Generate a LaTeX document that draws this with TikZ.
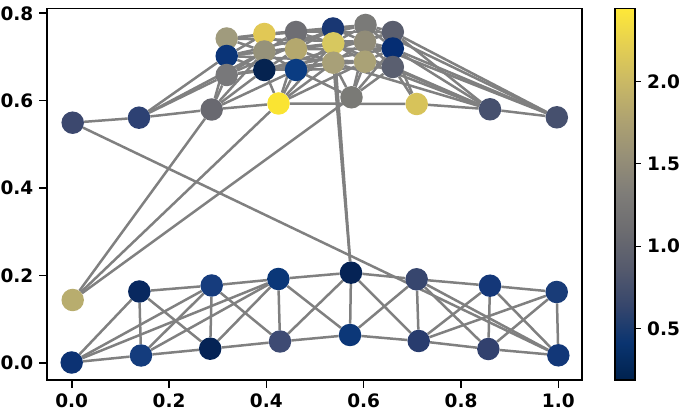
\documentclass[tikz,border=0pt]{standalone}
\usepackage{fontspec}
\setmainfont{DejaVu Sans}
\usetikzlibrary{backgrounds}
\definecolor{edgegray}{RGB}{128,128,128}
\definecolor{cv0}{RGB}{0,34,78}
\definecolor{cv1}{RGB}{10,52,112}
\definecolor{cv2}{RGB}{54,70,108}
\definecolor{cv3}{RGB}{85,90,109}
\definecolor{cv4}{RGB}{108,108,112}
\definecolor{cv5}{RGB}{126,124,120}
\definecolor{cv6}{RGB}{150,143,119}
\definecolor{cv7}{RGB}{174,162,113}
\definecolor{cv8}{RGB}{201,184,101}
\definecolor{cv9}{RGB}{228,207,82}
\definecolor{cv10}{RGB}{254,232,56}
\tikzset{
  vtx/.style={circle, minimum size=22.5pt, inner sep=0pt, draw=none},
  edge/.style={draw=edgegray, line width=2.5pt},
  frame/.style={draw=black, line width=1.8pt},
  tickmark/.style={draw=black, line width=1.6pt},
  ticklabel/.style={inner sep=0pt, font=\fontsize{18.5}{21}\selectfont\bfseries}
}
\begin{document}
\begin{tikzpicture}[x=1pt,y=-1pt]
\useasboundingbox (0,0) rectangle (685,411);
% ---- nodes: upper row
\node[vtx,fill={rgb,255:red,60;green,72;blue,110}] (P0) at (72.7,122.7) {};
\node[vtx,fill={rgb,255:red,45;green,65;blue,115}] (P1) at (139,117.7) {};
\node[vtx,fill={rgb,255:red,105;green,105;blue,112}] (P2) at (211.7,109.5) {};
\node[vtx,fill={rgb,255:red,250;green,228;blue,50}] (P3) at (278.5,103.5) {};
\node[vtx,fill={rgb,255:red,122;green,122;blue,118}] (P4) at (351.5,97.3) {};
\node[vtx,fill={rgb,255:red,215;green,195;blue,90}] (P5) at (416.7,104) {};
\node[vtx,fill={rgb,255:red,70;green,80;blue,110}] (P6) at (490,109.3) {};
\node[vtx,fill={rgb,255:red,70;green,80;blue,110}] (P7) at (556.8,117.3) {};
% ---- top cluster
\node[vtx,fill={rgb,255:red,160;green,155;blue,125}] (T11) at (226.7,38.5) {};
\node[vtx,fill={rgb,255:red,225;green,200;blue,85}] (T12) at (264.3,34) {};
\node[vtx,fill={rgb,255:red,110;green,110;blue,115}] (T13) at (296,32) {};
\node[vtx,fill={rgb,255:red,25;green,55;blue,115}] (T14) at (333,28.5) {};
\node[vtx,fill={rgb,255:red,122;green,122;blue,120}] (T15) at (365.5,25) {};
\node[vtx,fill={rgb,255:red,90;green,94;blue,110}] (T16) at (392.8,32) {};
\node[vtx,fill={rgb,255:red,10;green,52;blue,120}] (T21) at (226.7,56) {};
\node[vtx,fill={rgb,255:red,150;green,146;blue,122}] (T22) at (264.3,51.5) {};
\node[vtx,fill={rgb,255:red,180;green,168;blue,110}] (T23) at (296,49.3) {};
\node[vtx,fill={rgb,255:red,215;green,200;blue,95}] (T24) at (333.3,43.3) {};
\node[vtx,fill={rgb,255:red,145;green,140;blue,120}] (T25) at (365,41.7) {};
\node[vtx,fill={rgb,255:red,5;green,45;blue,115}] (T26) at (392.8,48.5) {};
\node[vtx,fill={rgb,255:red,120;green,120;blue,122}] (T31) at (226.7,75) {};
\node[vtx,fill={rgb,255:red,5;green,35;blue,80}] (T32) at (264.3,70) {};
\node[vtx,fill={rgb,255:red,10;green,60;blue,130}] (T33) at (296,70) {};
\node[vtx,fill={rgb,255:red,168;green,160;blue,120}] (T34) at (333.3,62.7) {};
\node[vtx,fill={rgb,255:red,170;green,162;blue,118}] (T35) at (365,61.7) {};
\node[vtx,fill={rgb,255:red,90;green,95;blue,112}] (T36) at (392.8,67) {};
% ---- bottom ladder
\node[vtx,fill={rgb,255:red,184;green,173;blue,110}] (y0) at (72.7,300) {};
\node[vtx,fill={rgb,255:red,12;green,50;blue,115}] (a0) at (71.7,362.5) {};
\node[vtx,fill={rgb,255:red,8;green,40;blue,95}] (b1t) at (139.3,291.5) {};
\node[vtx,fill={rgb,255:red,20;green,60;blue,125}] (b1b) at (141,355.5) {};
\node[vtx,fill={rgb,255:red,22;green,60;blue,125}] (c2t) at (211.7,285.5) {};
\node[vtx,fill={rgb,255:red,5;green,35;blue,85}] (c2b) at (210.2,348.7) {};
\node[vtx,fill={rgb,255:red,10;green,55;blue,120}] (d3t) at (278.3,279) {};
\node[vtx,fill={rgb,255:red,62;green,75;blue,115}] (d3b) at (280,341.5) {};
\node[vtx,fill={rgb,255:red,5;green,35;blue,85}] (e4t) at (351,272.7) {};
\node[vtx,fill={rgb,255:red,12;green,55;blue,120}] (e4b) at (350,335) {};
\node[vtx,fill={rgb,255:red,55;green,70;blue,110}] (f5t) at (416.7,279.3) {};
\node[vtx,fill={rgb,255:red,40;green,60;blue,110}] (f5b) at (418.7,341) {};
\node[vtx,fill={rgb,255:red,20;green,55;blue,120}] (g6t) at (490,285.7) {};
\node[vtx,fill={rgb,255:red,50;green,65;blue,110}] (g6b) at (488.3,349) {};
\node[vtx,fill={rgb,255:red,25;green,60;blue,120}] (h7t) at (556.7,292) {};
\node[vtx,fill={rgb,255:red,18;green,55;blue,120}] (h7b) at (558.3,355.3) {};
% ---- edges
\begin{scope}[on background layer]
\foreach \u/\v in {a0/b1t,a0/b1b,a0/c2t,a0/d3t,
  b1t/b1b,b1t/c2t,b1t/c2b,b1b/c2b,b1b/c2t,b1b/d3t,
  c2t/c2b,c2t/d3t,c2t/d3b,c2b/d3b,c2b/d3t,
  d3t/d3b,d3t/e4t,d3t/e4b,d3b/e4b,d3b/e4t,
  e4t/e4b,e4t/f5t,e4t/f5b,e4b/f5b,e4b/f5t,
  f5t/f5b,f5t/g6t,f5t/g6b,f5t/h7b,f5b/g6b,f5b/g6t,f5b/h7t,
  g6t/g6b,g6t/h7t,g6t/h7b,g6b/h7b,g6b/h7t,h7t/h7b,
  P0/h7b,y0/P2,y0/P3,y0/P4,e4t/T34,e4t/T14,
  P0/P1,P1/P2,P2/P3,P3/P5,P5/P6,P6/P7,
  T11/T12,T12/T13,T13/T14,T14/T15,T15/T16,
  T21/T22,T22/T23,T23/T24,T24/T25,T25/T26,
  T31/T32,T32/T33,T33/T34,T34/T35,T35/T36,
  T11/T22,T21/T12,T21/T32,T31/T22,T12/T23,T22/T13,T22/T33,T32/T23,
  T13/T24,T23/T14,T23/T34,T33/T24,T14/T25,T24/T15,T24/T35,T34/T25,
  T15/T26,T25/T16,T25/T36,T35/T26,
  T11/T14,T21/T24,T31/T34,T12/T15,T22/T25,T32/T35,T13/T16,T23/T26,
  T33/T36,T21/T15,T31/T14,T11/T25,T21/T35,T31/T26,T32/T16,
  P1/T21,P1/T31,P1/T22,
  P2/T31,P2/T21,P2/T32,P2/T22,P2/T33,
  P3/T32,P3/T33,P3/T23,P3/T34,P3/T35,P3/T24,
  P4/T33,P4/T34,P4/T35,P4/T25,P4/T36,P4/T26,
  P5/T36,P5/T26,
  P6/T36,P6/T26,P6/T16,P6/T35,P6/T24,P6/T34,
  P7/T16,P7/T26,P7/T25,P7/T15}
  \draw[edge] (\u) -- (\v);
\end{scope}
% ---- axes frame
\coordinate (axNW) at (46.7,8.5);
\coordinate (axSE) at (582,380);
\draw[frame] (axNW) rectangle (axSE);
% x ticks
\foreach \k/\lab in {0/0.0,1/0.2,2/0.4,3/0.6,4/0.8,5/1.0}{
  \coordinate (xt\k) at ({71.7+97.33*\k},380);
  \coordinate (xe\k) at ({71.7+97.33*\k},388);
  \draw[tickmark] (xt\k) -- (xe\k);
  \node[ticklabel,anchor=base] (xl\k) at ({71.7+97.33*\k},407) {\lab};
}
% y ticks
\foreach \k/\lab in {0/0.0,1/0.2,2/0.4,3/0.6,4/0.8}{
  \coordinate (yt\k) at (46.7,{362.9-87.4*\k});
  \coordinate (ye\k) at (39.2,{362.9-87.4*\k});
  \draw[tickmark] (yt\k) -- (ye\k);
  \node[ticklabel,anchor=east] (yl\k) at (33.5,{362.9-87.4*\k}) {\lab};
}
% ---- colorbar
\foreach \i [evaluate=\i as \j using int(\i+1)] in {0,...,9}{
  \shade[bottom color=cv\i, top color=cv\j]
    (615,{380-37.15*\i}) rectangle (635,{380-37.15*(\i+1)});
}
\draw[draw=black, line width=1.2pt] (615,8.5) rectangle (635,380);
\foreach \n/\k/\yy in {1/2.0/81.7,2/1.5/163.7,3/1.0/246.2,4/0.5/328.3}{
  \coordinate (ct\n) at (635,\yy);
  \coordinate (ce\n) at (641,\yy);
  \draw[tickmark, line width=1.3pt] (ct\n) -- (ce\n);
  \node[ticklabel,anchor=west] (cl\n) at (647,\yy) {\k};
}
\end{tikzpicture}
\end{document}
